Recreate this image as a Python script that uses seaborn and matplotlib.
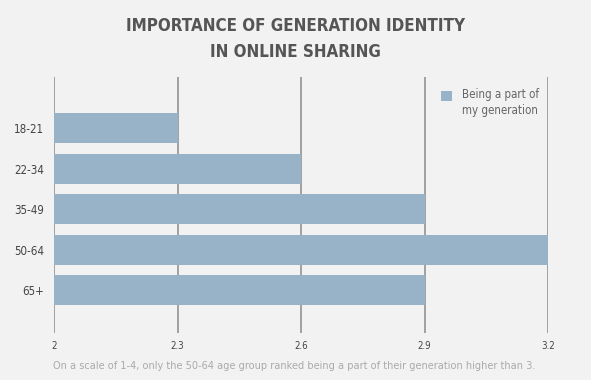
import matplotlib.pyplot as plt
import seaborn as sns
import pandas as pd

# data
age_groups = ['18-21', '22-34', '35-49', '50-64', '65+']
scores = [2.3, 2.6, 2.9, 3.2, 2.9]
series_name = 'Being a part of\nmy generation'
x_ticks = [2, 2.3, 2.6, 2.9, 3.2]
x_tick_labels = ['2', '2.3', '2.6', '2.9', '3.2']

df = pd.DataFrame({'age': age_groups, 'score': scores, 'series': series_name})

sns.set_theme(style='white')
plt.rcParams['font.family'] = ['DejaVu Sans']
plt.rcParams['font.stretch'] = 'condensed'

bg = '#f2f2f2'
bar_color = '#98b2c8'

fig = plt.figure(figsize=(5.91, 3.80), dpi=100, facecolor=bg)
ax = fig.add_axes([0.0914, 0.1237, 0.8359, 0.6737])
ax.set_facecolor(bg)

# bars run from 0; the x axis starts at 2 so they are clipped there
sns.barplot(data=df, y='age', x='score', hue='series', orient='h',
            palette=[bar_color], width=0.74, ax=ax, saturation=1,
            linewidth=0, edgecolor='none', alpha=1)
for p in ax.patches:
    p.set_zorder(3)
    p.set_alpha(1)

# vertical grid lines, behind the bars
for t in x_ticks:
    ax.axvline(t, color='#9a9a9a', lw=1.3, zorder=0.1)

ax.set_xlim(2, 3.2)
ax.set_ylim(5.06, -1.26)

for s in ax.spines.values():
    s.set_visible(False)

ax.set_xticks(x_ticks)
ax.set_xticklabels(x_tick_labels, fontsize=7, color='#444444')
ax.tick_params(axis='x', length=0, pad=6)
ax.tick_params(axis='y', length=0, pad=7, labelsize=8.3, labelcolor='#444444')
ax.set_xlabel('')
ax.set_ylabel('')

leg = ax.legend(loc='upper left', bbox_to_anchor=(0.783, 0.958), frameon=False,
                borderpad=0, borderaxespad=0,
                handlelength=0.95, handleheight=0.95, handletextpad=0.85,
                labelcolor='#666666', prop={'size': 8.3, 'stretch': 'condensed'})
leg.get_texts()[0].set_linespacing(1.3)
handle = leg.legend_handles[0]
handle.set_y(handle.get_y() + 5)

fig.text(0.5, 0.932, 'IMPORTANCE OF GENERATION IDENTITY', ha='center', va='center',
         fontsize=12.2, fontweight='bold', color='#555555')
fig.text(0.5, 0.862, 'IN ONLINE SHARING', ha='center', va='center',
         fontsize=12.2, fontweight='bold', color='#555555')

fig.text(0.497, 0.037,
         'On a scale of 1-4, only the 50-64 age group ranked being a part of their generation higher than 3.',
         ha='center', va='center', fontsize=7.8, color='#aaaaaa')

fig.savefig('out.png', dpi=100, facecolor=bg)
